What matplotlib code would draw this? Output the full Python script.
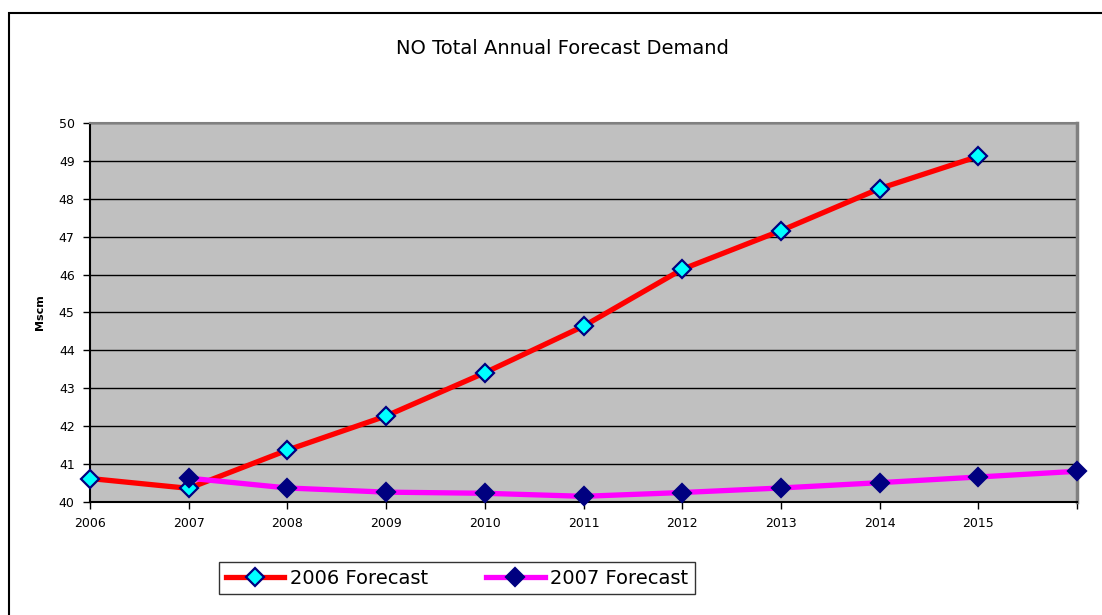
import matplotlib.pyplot as plt
from matplotlib.patches import Rectangle

# x categories (2016 has a point but no tick label)
years = ['2006', '2007', '2008', '2009', '2010', '2011', '2012', '2013', '2014', '2015']
pos_2006 = [0, 1, 2, 3, 4, 5, 6, 7, 8, 9]
fc_2006 = [40.62, 40.36, 41.37, 42.27, 43.41, 44.64, 46.14, 47.16, 48.27, 49.12]
pos_2007 = [1, 2, 3, 4, 5, 6, 7, 8, 9, 10]
fc_2007 = [40.63, 40.37, 40.26, 40.23, 40.15, 40.25, 40.37, 40.51, 40.66, 40.81]

W, H = 1102, 615
fig = plt.figure(figsize=(W / 100, H / 100), dpi=100)

# outer chart border (left and top only visible)
fig.patches.append(Rectangle((9 / W, -0.1), 1.2, (H - 13) / H + 0.1, transform=fig.transFigure,
                             fill=False, edgecolor='black', linewidth=1.5))

ax = fig.add_axes([90 / W, (H - 502) / H, (1077 - 90) / W, (502 - 123) / H])
ax.set_facecolor('#c0c0c0')
for s in ax.spines.values():
    s.set_color('#808080')
    s.set_linewidth(1.5)
ax.spines['right'].set_linewidth(2.5)
ax.spines['left'].set_color('black')
ax.spines['bottom'].set_color('black')

ax.set_xlim(0, 10)
ax.set_ylim(40, 50)
ax.set_yticks(range(40, 51))
ax.set_xticks(range(0, 11))
ax.set_xticklabels(years + [''])
ax.tick_params(axis='both', direction='out', length=5, width=1, labelsize=9, pad=6)
ax.grid(axis='y', color='black', linewidth=1)
ax.set_axisbelow(True)

ax.plot(pos_2006, fc_2006, color='red', linewidth=3.8, marker='D', markersize=9.5,
        markerfacecolor='cyan', markeredgecolor='#000080', markeredgewidth=1.6,
        label='2006 Forecast', clip_on=False, zorder=3)
ax.plot(pos_2007, fc_2007, color='#ff00ff', linewidth=3.8, marker='D', markersize=9.5,
        markerfacecolor='#000080', markeredgecolor='#000080', markeredgewidth=1.6,
        label='2007 Forecast', clip_on=False, zorder=3)

ax.set_ylabel('Mscm', fontsize=8, fontweight='bold', labelpad=10)
fig.text(562 / W, 1 - 49 / H, 'NO Total Annual Forecast Demand', ha='center', va='center', fontsize=14)

leg = ax.legend(loc='center', bbox_to_anchor=(457 / W, 1 - 578 / H), bbox_transform=fig.transFigure,
                ncol=2, fontsize=14, frameon=True, fancybox=False, edgecolor='black',
                handlelength=3.0, handletextpad=0.3, columnspacing=3.0, borderpad=0.35)
leg.get_frame().set_linewidth(1)

fig.savefig('out.png', dpi=100)
